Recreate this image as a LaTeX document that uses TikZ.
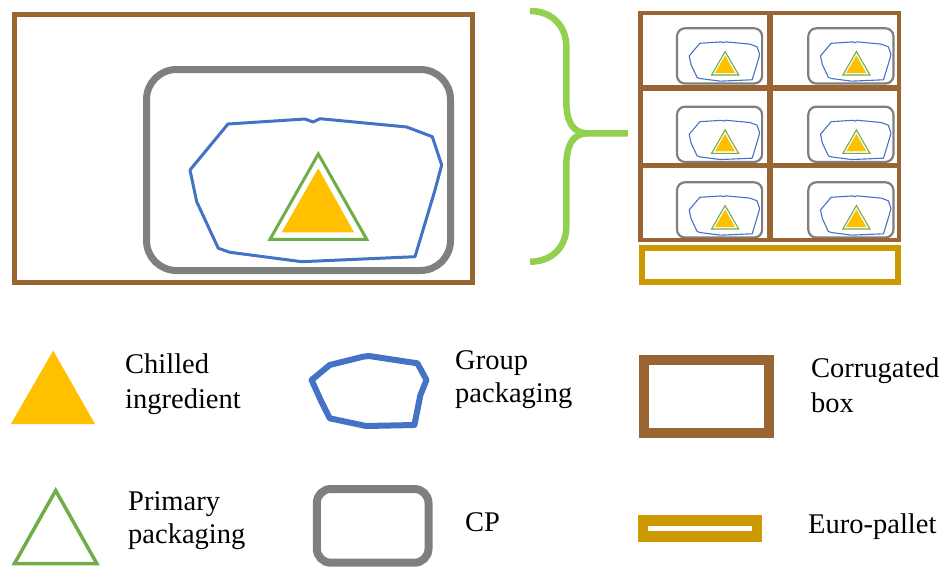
\documentclass[tikz,border=0pt]{standalone}
\usepackage{fontspec}
\setmainfont{Liberation Serif}
\definecolor{boxbrown}{RGB}{153,102,51}
\definecolor{cpgray}{RGB}{127,127,127}
\definecolor{gpblue}{RGB}{68,114,196}
\definecolor{primgreen}{RGB}{112,173,71}
\definecolor{chill}{RGB}{255,192,0}
\definecolor{bracegreen}{RGB}{146,208,80}
\definecolor{palletgold}{RGB}{204,153,0}
\newcommand\cpunit[4]{%
  \draw[cpgray, line width=#1, rounded corners=#4] (0,0) rectangle (304,201);
  \draw[gpblue, line width=#2, line join=round]
    (81.5,54.5) -- (158.5,49.5) -- (166.5,52.5) -- (173.5,49.2) -- (260.2,57.5)
    -- (285.8,67.2) -- (295.2,95.5) -- (288.5,120.5) -- (268.5,187.2)
    -- (155.2,192.2) -- (83.5,182.8) -- (71.8,178.8) -- (50.2,132.2)
    -- (43.5,100.5) -- cycle;
  \fill[chill] (171.8,98.8) -- (135.2,162.8) -- (207.5,162.8) -- cycle;
  \draw[primgreen, line width=#3] (171.8,84.5) -- (123.5,169.8) -- (220.2,169.8) -- cycle;
}
\begin{document}
\begin{tikzpicture}[x=1pt,y=-1pt,
  lbl/.style={anchor=base west, inner sep=0pt, font=\fontsize{28.5}{34}\selectfont}]
\useasboundingbox (0,0) rectangle (949,570);

% big corrugated box with CP
\draw[boxbrown, line width=5pt] (14.2,14.2) rectangle (472.5,282.5);
\begin{scope}[shift={(146.5,69.5)}]
  \cpunit{7pt}{3pt}{3pt}{30pt}
\end{scope}

% brace
\draw[bracegreen, line width=6.5pt]
  (530,11) .. controls (552,11) and (566.3,26) .. (566.3,46.7)
  -- (566.3,100) .. controls (566.3,121) and (572,133.3) .. (588,133.3)
  -- (628,133.3);
\draw[bracegreen, line width=6.5pt]
  (588,133.3) .. controls (572,133.3) and (566.3,146) .. (566.3,166.7)
  -- (566.3,226.7) .. controls (566.3,247) and (552,261.7) .. (530,261.7);

% pallet stack
\foreach \cx in {677,808.3}{
  \foreach \cy in {28.3,106.7,182.3}{
    \begin{scope}[shift={(\cx,\cy)}, xscale=0.28, yscale=0.275]
      \cpunit{2.2pt}{1.1pt}{1.1pt}{8pt}
    \end{scope}
  }
}
\draw[boxbrown, line width=4.3pt] (640.5,13.3) rectangle (898.7,240);
\draw[boxbrown, line width=6.5pt] (770,13.3) -- (770,240);
\draw[boxbrown, line width=5.5pt] (640.5,88) -- (898.7,88);
\draw[boxbrown, line width=5pt] (640.5,165.8) -- (898.7,165.8);
\draw[palletgold, line width=6pt] (641.7,247.8) rectangle (897.8,281.7);

% legend shapes
\fill[chill] (53.2,350.7) -- (10.9,424) -- (95,424) -- cycle;
\draw[primgreen, line width=3.5pt] (55.7,490.5) -- (14.5,563.5) -- (96.8,563.5) -- cycle;
\draw[gpblue, line width=6pt, line join=round]
  (363,356.7) -- (369,356) -- (417.4,363.3) -- (426.5,380) -- (420.4,395)
  -- (414.4,425) -- (366,426) -- (329.7,418.3) -- (320.6,400)
  -- (311.6,380) -- (329.7,365) -- cycle;
\draw[cpgray, line width=8pt, rounded corners=14pt] (316.8,489) rectangle (428.5,562.7);
\draw[boxbrown, line width=10pt] (643.5,360) rectangle (769.3,433);
\draw[palletgold, line width=10.5pt] (643.2,520.3) rectangle (756.8,536.4);

% legend labels
\node[lbl] (chilled1) at (125,373) {Chilled};
\node[lbl] (chilled2) at (125,408.5) {ingredient};
\node[lbl] (group1) at (455,369) {Group};
\node[lbl] (group2) at (455,402) {packaging};
\node[lbl] (corr1) at (811,377) {Corrugated};
\node[lbl] (corr2) at (811,412) {box};
\node[lbl] (prim1) at (128,510) {Primary};
\node[lbl] (prim2) at (128,543.5) {packaging};
\node[lbl] (cp) at (465,531.7) {CP};
\node[lbl] (euro) at (808,533.3) {Euro-pallet};
\end{tikzpicture}
\end{document}
